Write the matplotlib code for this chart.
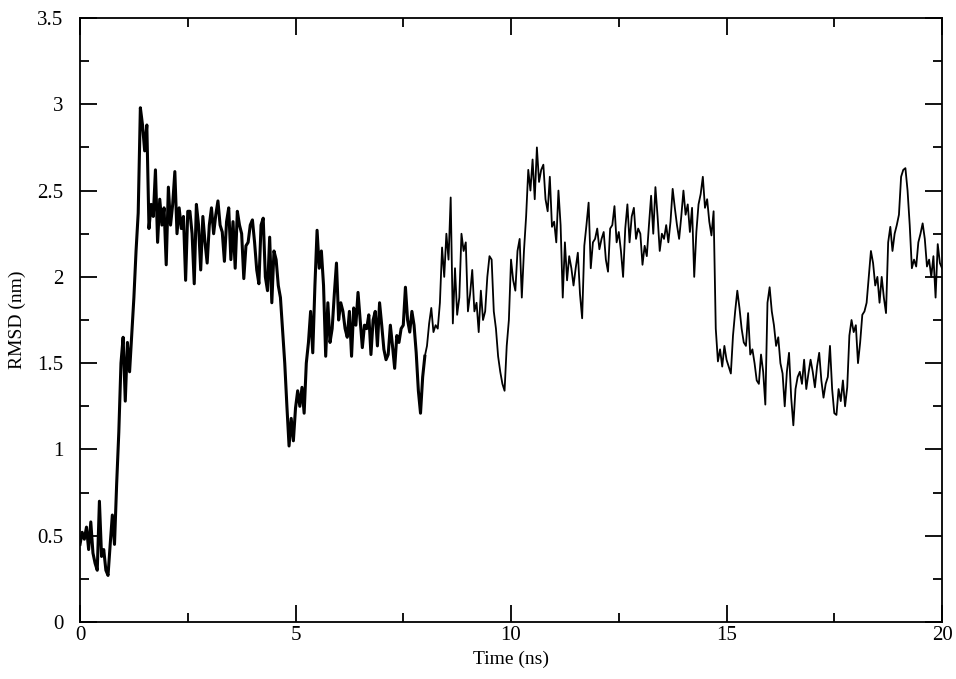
import numpy as np
import matplotlib
matplotlib.use("Agg")
import matplotlib.pyplot as plt
from matplotlib.ticker import MultipleLocator, FuncFormatter

# RMSD (nm), one value every 0.05 ns
rmsd = [
    # 0 - 1 ns
    0.45, 0.52, 0.48, 0.55, 0.42, 0.58, 0.40, 0.34, 0.30, 0.70,
    0.38, 0.42, 0.30, 0.27, 0.45, 0.62, 0.45, 0.80, 1.10, 1.50, 1.65,
    # 1.05 - 2.5 ns
    1.28, 1.62, 1.45, 1.67, 1.88, 2.15, 2.37, 2.98, 2.88, 2.73,
    2.88, 2.28, 2.42, 2.35, 2.62, 2.20, 2.45, 2.30, 2.40, 2.07,
    2.52, 2.30, 2.42, 2.61, 2.25, 2.40, 2.28, 2.35, 1.98, 2.38,
    # 2.55 - 5 ns
    2.38, 2.25, 1.96, 2.42, 2.30, 2.04, 2.35, 2.20, 2.08, 2.30,
    2.40, 2.25, 2.36, 2.44, 2.30, 2.26, 2.09, 2.32, 2.40, 2.10,
    2.32, 2.05, 2.38, 2.30, 2.25, 1.99, 2.18, 2.20, 2.30, 2.33,
    2.20, 2.04, 1.96, 2.30, 2.34, 2.00, 1.92, 2.23, 1.85, 2.15,
    2.10, 1.95, 1.88, 1.69, 1.50, 1.25, 1.02, 1.18, 1.05, 1.24,
    # 5.05 - 7.5 ns
    1.34, 1.25, 1.36, 1.21, 1.50, 1.62, 1.80, 1.56, 1.95, 2.27,
    2.05, 2.15, 1.95, 1.54, 1.85, 1.62, 1.70, 1.90, 2.08, 1.75,
    1.85, 1.80, 1.70, 1.65, 1.80, 1.54, 1.82, 1.72, 1.91, 1.75,
    1.59, 1.72, 1.70, 1.78, 1.55, 1.75, 1.80, 1.60, 1.85, 1.72,
    1.58, 1.52, 1.55, 1.72, 1.60, 1.47, 1.66, 1.62, 1.70, 1.72,
    # 7.55 - 10 ns
    1.94, 1.75, 1.68, 1.80, 1.72, 1.56, 1.34, 1.21, 1.42, 1.54,
    1.60, 1.73, 1.82, 1.68, 1.72, 1.70, 1.85, 2.17, 2.00, 2.25,
    2.10, 2.46, 1.73, 2.05, 1.78, 1.88, 2.25, 2.15, 2.20, 1.80,
    1.90, 2.04, 1.80, 1.85, 1.68, 1.92, 1.75, 1.80, 2.00, 2.12,
    2.10, 1.80, 1.70, 1.54, 1.45, 1.38, 1.34, 1.60, 1.75, 2.10,
    # 10.05 - 12.5 ns
    1.98, 1.92, 2.15, 2.22, 1.88, 2.15, 2.35, 2.62, 2.50, 2.68,
    2.45, 2.75, 2.55, 2.62, 2.65, 2.45, 2.38, 2.58, 2.29, 2.32,
    2.20, 2.50, 2.30, 1.88, 2.20, 1.98, 2.12, 2.05, 1.95, 2.05,
    2.14, 1.90, 1.76, 2.18, 2.30, 2.43, 2.05, 2.20, 2.22, 2.28,
    2.16, 2.22, 2.26, 2.10, 2.03, 2.28, 2.30, 2.41, 2.20, 2.26,
    # 12.55 - 15 ns
    2.15, 2.00, 2.28, 2.42, 2.20, 2.35, 2.40, 2.22, 2.28, 2.25,
    2.07, 2.18, 2.12, 2.30, 2.47, 2.25, 2.52, 2.35, 2.15, 2.25,
    2.22, 2.30, 2.20, 2.32, 2.51, 2.40, 2.30, 2.22, 2.35, 2.50,
    2.36, 2.42, 2.26, 2.40, 2.00, 2.26, 2.42, 2.48, 2.58, 2.40,
    2.45, 2.32, 2.24, 2.38, 1.70, 1.51, 1.58, 1.48, 1.60, 1.52,
    # 15.05 - 17.5 ns
    1.48, 1.44, 1.66, 1.80, 1.92, 1.82, 1.70, 1.62, 1.60, 1.79,
    1.55, 1.58, 1.50, 1.40, 1.38, 1.55, 1.45, 1.26, 1.85, 1.94,
    1.80, 1.72, 1.60, 1.65, 1.50, 1.44, 1.25, 1.45, 1.56, 1.30,
    1.14, 1.35, 1.42, 1.45, 1.38, 1.52, 1.35, 1.44, 1.52, 1.45,
    1.36, 1.48, 1.56, 1.40, 1.30, 1.38, 1.42, 1.60, 1.35, 1.21,
    # 17.55 - 20 ns
    1.20, 1.35, 1.28, 1.40, 1.25, 1.36, 1.66, 1.75, 1.68, 1.72,
    1.50, 1.62, 1.78, 1.80, 1.85, 2.00, 2.15, 2.08, 1.95, 2.00,
    1.85, 2.00, 1.88, 1.79, 2.20, 2.29, 2.15, 2.25, 2.30, 2.36,
    2.58, 2.62, 2.63, 2.50, 2.30, 2.05, 2.10, 2.06, 2.20, 2.25,
    2.31, 2.22, 2.06, 2.10, 2.00, 2.12, 1.88, 2.19, 2.08, 2.05,
]
time = np.linspace(0, 20, len(rmsd))

plt.rcParams['font.family'] = ['Liberation Serif', 'DejaVu Serif']

fig = plt.figure(figsize=(9.56, 6.79), dpi=100)
ax = fig.add_axes([0.0837, 0.0839, 0.9017, 0.8896])

# the first part of the trace is drawn heavier in the original picture
split = 160  # index of t = 8 ns
ax.plot(time[:split + 1], rmsd[:split + 1], color="black", lw=2.2)
ax.plot(time[split:], rmsd[split:], color="black", lw=1.3)

ax.set_xlim(0, 20)
ax.set_ylim(0, 3.5)
ax.xaxis.set_major_locator(MultipleLocator(5))
ax.xaxis.set_minor_locator(MultipleLocator(2.5))
ax.yaxis.set_major_locator(MultipleLocator(0.5))
ax.yaxis.set_minor_locator(MultipleLocator(0.25))
ax.xaxis.set_major_formatter(FuncFormatter(lambda v, p: "%g" % v))
ax.yaxis.set_major_formatter(FuncFormatter(lambda v, p: "%g" % v))

ax.tick_params(which="both", direction="in", top=True, right=True, width=1.3, labelsize=15)
ax.tick_params(axis="y", pad=12)
ax.tick_params(axis="x", pad=3)
ax.tick_params(which="major", length=12)
ax.tick_params(which="minor", length=6.5)
for s in ax.spines.values():
    s.set_linewidth(1.3)

ax.set_xlabel("Time (ns)", fontsize=14, labelpad=4)
ax.set_ylabel("RMSD (nm)", fontsize=14, labelpad=8)

fig.savefig("out.png", dpi=100)
